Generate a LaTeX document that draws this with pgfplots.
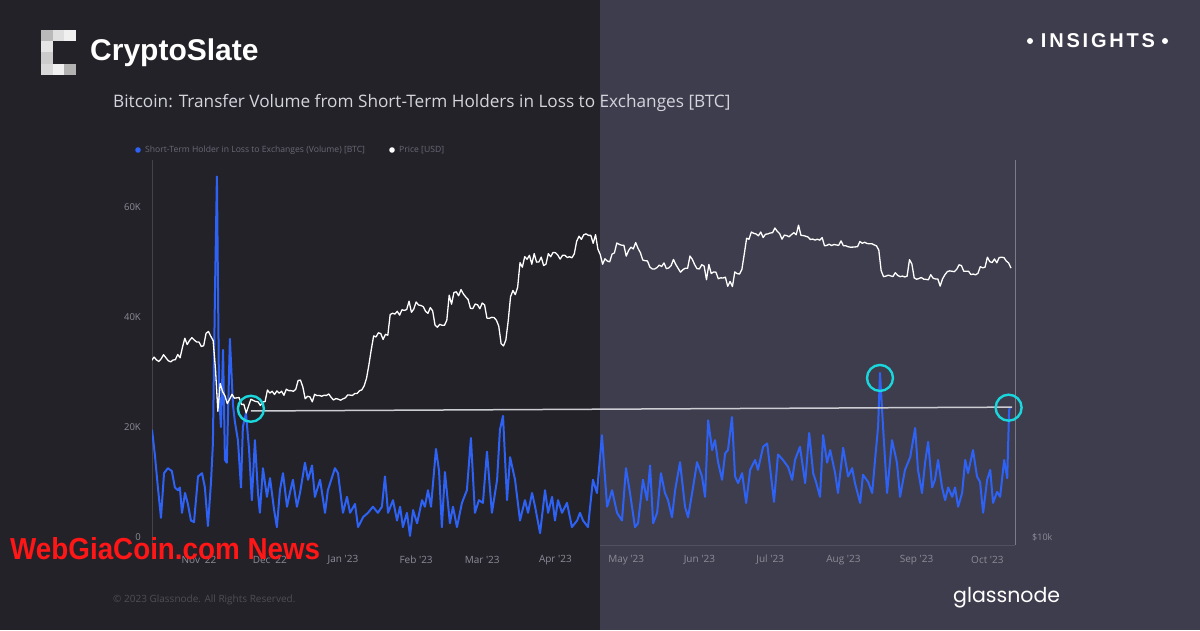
\documentclass[border=0pt]{standalone}
\usepackage{pgfplots}
\pgfplotsset{compat=1.18}
\usepackage{graphicx}
\usepackage{fontspec}
\setmainfont{Liberation Sans}
\newfontfamily\chartfont{Open Sans}
\newfontfamily\insfont[LetterSpace=14]{Liberation Sans}
\newfontfamily\gnfont{Poppins}

\definecolor{bgL}{RGB}{35,34,41}
\definecolor{bgR}{RGB}{62,61,77}
\definecolor{volblue}{RGB}{46,98,245}
\definecolor{ticktxt}{RGB}{140,140,152}
\definecolor{legtxt}{RGB}{105,105,118}
\definecolor{titletxt}{RGB}{212,212,220}
\definecolor{ringcyan}{RGB}{25,215,220}
\definecolor{trendline}{RGB}{205,205,212}
\definecolor{wmred}{RGB}{255,22,22}

\pgfplotsset{
  base/.style={at={(152pt,85pt)}, anchor=south west,
    width=863pt, height=385pt, scale only axis,
    xmin=-80.9, xmax=284.7,
    axis line style={draw=none}, major tick length=0pt,
    minor tick num=0},
}

\begin{document}
\begin{tikzpicture}[x=1pt,y=1pt]
% panels
\fill[bgL] (0,0) rectangle (600,630);
\fill[bgR] (600,0) rectangle (1200,630);
\useasboundingbox (0,0) rectangle (1200,630);

% logo
\fill[gray!55!white] (41,589) rectangle (52.7,600);
\fill[gray!25!white] (52.7,589) rectangle (64.3,600);
\fill[gray!12!white] (64.3,589) rectangle (76,600);
\fill[gray!20!white] (41,577.7) rectangle (52.7,589);
\fill[gray!40!white] (41,566.3) rectangle (52.7,577.7);
\fill[gray!30!white] (41,555) rectangle (52.7,566.3);
\fill[gray!12!white] (52.7,555) rectangle (64.3,566.3);
\fill[gray!60!white] (64.3,555) rectangle (76,566.3);
\node[anchor=west, inner sep=0pt, text=white, font=\fontsize{30}{33}\selectfont\bfseries] at (90,577) {CryptoSlate};

% insights
\fill[white] (1030,589) circle (3);
\fill[white] (1165,589) circle (3);
\node[anchor=center, inner sep=0pt, text=white, font=\fontsize{20}{24}\insfont\bfseries] at (1098,589) {INSIGHTS};

% title
\node[anchor=west, inner sep=0pt, text=titletxt, font=\fontsize{17.2}{20}\chartfont] at (113,527) {Bitcoin: Transfer Volume from Short-Term Holders in Loss to Exchanges [BTC]};

% legend
\fill[volblue] (138,480) circle (2.8);
\node[anchor=west, inner sep=0pt, text=legtxt, font=\fontsize{8.6}{10}\chartfont] at (145,480) {Short-Term Holder in Loss to Exchanges (Volume) [BTC]};
\fill[white] (392,480) circle (2.8);
\node[anchor=west, inner sep=0pt, text=legtxt, font=\fontsize{8.6}{10}\chartfont] at (399,480) {Price [USD]};

% axis frame lines
\draw[line width=0.8pt, color=bgL!85!white] (152,85) -- (152,470);
\draw[line width=0.8pt, color=bgR!90!white] (600,85) -- (1015,85);
\draw[line width=1pt, color=ticktxt!80!bgR] (1015,85) -- (1015,470);

% volume axis
\begin{axis}[base,
  ymin=-1.45, ymax=68.5,
  xtick={-61,-31,0,31,59,90,120,151,181,212,243,273},
  xticklabels={Nov '22,Dec '22,Jan '23,Feb '23,Mar '23,Apr '23,May '23,Jun '23,Jul '23,Aug '23,Sep '23,Oct '23},
  xticklabel style={font=\fontsize{10}{11}\chartfont, text=ticktxt, anchor=center, yshift=-15pt},
  ytick={0,20,40,60}, yticklabels={0,20K,40K,60K},
  yticklabel style={font=\fontsize{9.5}{11}\chartfont, text=ticktxt, anchor=east, inner sep=0pt, xshift=-11pt},
]
\addplot[volblue, line width=2pt, line join=round] coordinates {
(-80.9,19.5)(-79.7,15)(-78.4,9)(-77.1,3.5)(-75.8,11.6)(-74.2,12.5)(-72.5,12)(-71.2,9)(-69.9,8.5)(-69.1,9)
(-68.2,4.4)(-66.9,8)(-65.7,6)(-64.4,3)(-63.1,2.7)(-61.4,11)(-59.7,11.6)(-58.5,9)(-57.2,2)(-55.9,10)
(-55.1,17)(-54.2,45)(-53.4,65.5)(-52.5,26)(-51.7,20)(-50.8,34)(-50.0,14)(-49.2,13.5)(-47.9,36)(-46.6,24)
(-45.8,21)(-44.5,17.6)(-43.2,9)(-42.4,20)(-41.1,22.5)(-39.8,16)(-38.6,6.7)(-37.3,17.6)(-36.0,8)(-35.2,4.4)
(-33.9,12.5)(-32.2,7.3)(-30.9,10.7)(-29.2,5)(-28.0,1.8)(-26.7,8.5)(-25.4,11.6)(-23.7,5.5)(-22.5,8)(-21.2,10.4)
(-19.5,5.5)(-18.2,8)(-16.1,13.5)(-14.8,10.4)(-13.1,13)(-11.9,7.3)(-9.7,10.4)(-7.6,4.4)(-6.4,8.5)(-3.4,12.5)
(-2.1,11.6)(0,4.4)(1.7,7.3)(3.0,4.4)(5.1,6)(6.4,1.8)(8.5,3.6)(10.6,4.4)(12.7,5.5)(14.8,4.4)
(16.5,5.5)(17.8,11)(19.1,4.4)(21.2,6.7)(22.9,3)(24.2,5.5)(25.4,1.8)(27.1,4.4)(28.4,0.2)(29.7,4.9)
(31.4,2.5)(33.5,6.7)(34.7,5.5)(36.0,8.5)(37.3,5.5)(39.4,16)(40.7,12)(41.9,1.8)(43.2,11.8)(45.3,2.5)
(46.6,5.5)(48.3,1.8)(50.4,6.2)(52.5,8.5)(54.2,18)(55.9,4.4)(57.6,6.7)(59.3,6.2)(61.0,15.5)(63.1,4.4)
(65.3,10.4)(66.5,19.5)(67.8,22)(69.5,6.7)(70.8,14.5)(72.9,10.4)(75.0,3)(77.1,6.7)(78.4,4.4)(80.1,8)
(81.4,5.5)(83.5,0.7)(85.6,8.5)(86.9,4.4)(88.6,7.3)(89.8,3)(91.1,6.7)(92.8,4.4)(94.9,6.2)(97.0,1.8)
(99.2,3)(100.4,4.4)(101.7,3)(103.8,1.8)(105.9,10.4)(107.6,8)(109.7,18.5)(111.9,5.5)(114.0,8.5)(116.1,4.4)
(118.2,3)(119.9,12.5)(121.6,8)(123.7,1.8)(125.0,2.5)(127.1,10.4)(128.8,6.7)(130.1,13)(131.4,2.5)(133.1,4.4)
(134.7,11.6)(136.4,8)(137.7,6.7)(139.4,3.6)(140.7,8.5)(142.8,13.6)(144.9,5.5)(146.2,3.6)(148.3,9)(150.0,13.6)
(152.1,11)(153.4,7.3)(154.7,21.2)(156.4,15.8)(157.6,17.6)(158.9,13.6)(160.6,10.4)(161.9,15.2)(163.1,15.8)(164.8,21.8)
(166.1,11)(167.4,9.8)(169.1,11.6)(170.8,6.2)(172.5,12.2)(174.6,14)(175.8,12.2)(178.0,16.4)(179.7,17)(180.9,12.7)
(182.6,6.4)(184.3,15)(186.4,14)(188.6,12.7)(190.3,10.4)(191.5,14)(193.6,16.4)(195.8,9.8)(197.5,18.9)(199.2,11.6)
(200.4,10)(202.1,7.3)(203.4,18.5)(205.1,13.5)(206.4,15.8)(208.5,11.6)(209.7,8)(211.9,16.2)(214.0,11)(215.7,12.5)
(216.9,9.8)(219.1,6.2)(220.3,11.3)(222.5,10)(224.2,8)(225.4,14)(226.7,20)(227.5,29.8)(228.8,20)(230.5,8)
(232.6,17.6)(234.7,13.5)(236.0,7.3)(238.1,12.2)(240.3,14.5)(242.4,19.8)(243.6,12.2)(245.3,8)(246.6,13.5)(247.9,17.3)
(249.6,9)(250.8,10.4)(252.1,14)(253.8,9)(255.1,6.7)(256.4,9)(258.1,7.3)(259.3,9)(260.6,5.5)(262.3,8)
(263.6,14)(264.8,11.6)(266.9,15.8)(268.6,11)(269.9,10)(271.2,4.4)(272.9,10.4)(274.2,12.2)(275.4,6.2)(277.1,8.2)
(278.4,7.3)(280.1,14)(281.4,10.7)(282.2,23)(282.6,23.6)
};
\end{axis}

% price axis (log)
\begin{axis}[base,
  ymode=log, ymin=9710, ymax=40010,
  xtick=\empty,
  ytick={10000}, yticklabels={\$10k},
  yticklabel pos=right,
  yticklabel style={font=\fontsize{9}{10}\chartfont, text=ticktxt, anchor=west, inner sep=0pt, xshift=17pt},
]
\addplot[white, line width=1.3pt, line join=round] coordinates {
(-81,19150)(-80,19380)(-79,19180)(-78,19070)(-77,19260)(-76,19550)(-75,19330)(-74,19120)(-73,19040)(-72,19170)
(-71,19200)(-70,19570)(-69,19330)(-68,20090)(-67,20770)(-66,20290)(-65,20600)(-64,20810)(-63,20630)(-62,20490)
(-61,20480)(-60,20150)(-59,20210)(-58,21150)(-57,21290)(-56,20920)(-55,20590)(-54,18540)(-53,15880)(-52,17590)
(-51,17070)(-50,16810)(-49,16330)(-48,16610)(-47,16900)(-46,16660)(-45,16680)(-44,16700)(-43,16280)(-42,16290)
(-41,15780)(-40,16190)(-39,16600)(-38,16520)(-37,16460)(-36,16440)(-35,16220)(-34,16430)(-33,16450)(-32,17170)
(-31,16980)(-30,17090)(-29,16890)(-28,17110)(-27,16970)(-26,17090)(-25,16840)(-24,17220)(-23,17130)(-22,17130)
(-21,17090)(-20,17210)(-19,17780)(-18,17810)(-17,17360)(-16,16630)(-15,16780)(-14,16740)(-13,16440)(-12,16900)
(-11,16820)(-10,16830)(-9,16780)(-8,16840)(-7,16830)(-6,16920)(-5,16710)(-4,16550)(-3,16640)(-2,16600)
(-1,16540)(0,16620)(1,16680)(2,16860)(3,16850)(4,16830)(5,16950)(6,16950)(7,17120)(8,17180)
(9,17440)(10,17940)(11,18850)(12,19930)(13,20950)(14,20870)(15,21190)(16,21130)(17,20680)(18,21070)
(19,21000)(20,22660)(21,22770)(22,22700)(23,22930)(24,22610)(25,23060)(26,23010)(27,23080)(28,23800)
(29,22850)(30,23120)(31,23730)(32,23470)(33,23430)(34,23330)(35,22930)(36,22760)(37,23250)(38,22960)
(39,21800)(40,21630)(41,21860)(42,21780)(43,21780)(44,22200)(45,24330)(46,23540)(47,24570)(48,24640)
(49,24280)(50,24840)(51,24450)(52,24180)(53,23950)(54,23190)(55,23160)(56,23550)(57,23490)(58,23150)
(59,23640)(60,23470)(61,22360)(62,22350)(63,22430)(64,22410)(65,22200)(66,21720)(67,20360)(68,20190)
(69,20630)(70,22140)(71,24200)(72,24750)(73,24380)(74,25050)(75,27420)(76,26970)(77,28040)(78,27770)
(79,28180)(80,27270)(81,28350)(82,27480)(83,27490)(84,27990)(85,27140)(86,27270)(87,28350)(88,28030)
(89,28480)(90,28450)(91,28200)(92,27790)(93,28170)(94,28180)(95,27950)(96,28030)(97,27920)(98,28330)
(99,29660)(100,30230)(101,29880)(102,30390)(103,30490)(104,30320)(105,30320)(106,29450)(107,30400)(108,28820)
(109,28250)(110,27270)(111,27820)(112,27590)(113,27510)(114,28300)(115,28430)(116,29480)(117,29340)(118,29250)
(119,29240)(120,28090)(121,28680)(122,29030)(123,28850)(124,29530)(125,28900)(126,28450)(127,27700)(128,27620)
(129,27600)(130,26990)(131,26800)(132,26790)(133,26930)(134,27180)(135,27040)(136,27400)(137,26830)(138,26890)
(139,27120)(140,27750)(141,27240)(142,26850)(143,26480)(144,26720)(145,26870)(146,26860)(147,28100)(148,27760)
(149,27220)(150,26820)(151,26800)(152,27220)(153,27080)(154,25760)(155,27240)(156,26350)(157,26500)(158,26480)
(159,25850)(160,25940)(161,25920)(162,26000)(163,25140)(164,25590)(165,25120)(166,26510)(167,26340)(168,26300)
(169,26760)(170,28300)(171,30000)(172,29890)(173,30690)(174,30550)(175,30480)(176,30270)(177,30690)(178,30080)
(179,30450)(180,30480)(181,30590)(182,30620)(183,31150)(184,30770)(185,30510)(186,29900)(187,30350)(188,30290)
(189,30170)(190,30410)(191,30620)(192,30390)(193,31480)(194,30330)(195,30300)(196,30230)(197,30140)(198,29860)
(199,29910)(200,29800)(201,29900)(202,29790)(203,30080)(204,29180)(205,29230)(206,29350)(207,29210)(208,29320)
(209,29270)(210,29230)(211,29710)(212,29180)(213,29180)(214,29080)(215,29030)(216,29040)(217,29060)(218,29090)
(219,29650)(220,29450)(221,29560)(222,29430)(223,29400)(224,29410)(225,29280)(226,29180)(227,28720)(228,26630)
(229,26050)(230,26100)(231,26190)(232,26120)(233,26060)(234,26430)(235,26170)(236,26050)(237,26100)(238,26020)
(239,26100)(240,27730)(241,27300)(242,25930)(243,25800)(244,25870)(245,25970)(246,25810)(247,25790)(248,25750)
(249,26240)(250,25900)(251,25830)(252,25830)(253,25160)(254,25840)(255,26230)(256,26530)(257,26610)(258,26570)
(259,26530)(260,26760)(261,27210)(262,27130)(263,26570)(264,26580)(265,26580)(266,26250)(267,26300)(268,26220)
(269,26370)(270,27020)(271,26910)(272,26970)(273,27980)(274,27530)(275,27430)(276,27800)(277,27410)(278,27950)
(279,27970)(280,27950)(281,27590)(282,27390)(283,26880)
};
\end{axis}

% annotations on the volume scale
\begin{axis}[base, ymin=-1.45, ymax=68.5, hide axis, clip=false]
\addplot[trendline, line width=1.5pt] coordinates {(-39.0,22.9)(283.5,23.6)};
\addplot[only marks, mark=o, mark size=13pt, mark options={ringcyan, line width=2.4pt}] coordinates {(-39.0,23.3)(227.5,28.9)(282.0,23.5)};
\end{axis}

% watermark
\node[anchor=south west, inner sep=0pt, text=wmred] at (10,70) {\resizebox{310pt}{22pt}{\bfseries WebGiaCoin.com News}};

% footer
\node[anchor=west, inner sep=0pt, text=bgL!80!white, font=\fontsize{10}{12}\chartfont] at (113,30) {© 2023 Glassnode. All Rights Reserved.};
\node[anchor=west, inner sep=0pt, text=white, font=\fontsize{20.5}{24}\gnfont] at (953,32) {glassnode};
\end{tikzpicture}
\end{document}
